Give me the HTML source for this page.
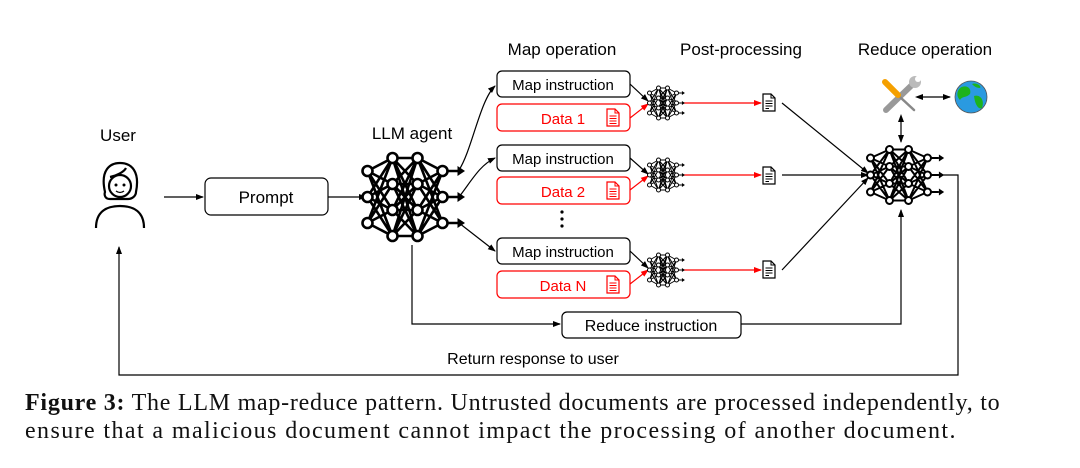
<!DOCTYPE html>
<html><head><meta charset="utf-8"><style>
html,body{margin:0;padding:0;background:#fff;width:1080px;height:468px;overflow:hidden}
svg text{font-family:"Liberation Sans",sans-serif}
.cap{position:absolute;left:25px;font-family:"Liberation Serif",serif;font-size:24px;line-height:28px;color:#111;white-space:nowrap}
.l1{top:389px;letter-spacing:0.75px}
.l2{top:417px;letter-spacing:1.4px}
</style></head><body>
<svg id="s" width="1080" height="468" viewBox="0 0 1080 468" style="position:absolute;left:0;top:0">
<defs>
<marker id="a" markerWidth="8" markerHeight="8" refX="7" refY="4" orient="auto" markerUnits="userSpaceOnUse"><path d="M0,1 L8,4 L0,7z" fill="#000"/></marker>
<marker id="ar" markerWidth="8" markerHeight="8" refX="7" refY="4" orient="auto" markerUnits="userSpaceOnUse"><path d="M0,1 L8,4 L0,7z" fill="#f00"/></marker>
<marker id="as" markerWidth="8" markerHeight="8" refX="1" refY="4" orient="auto-start-reverse" markerUnits="userSpaceOnUse"><path d="M0,1 L8,4 L0,7z" fill="#000"/></marker>
<g id="doc"><path d="M0,0 H8 L12,4 V17 H0Z" fill="#fff" stroke="#000" stroke-width="1.2"/><path d="M8,0 V4 H12" fill="none" stroke="#000" stroke-width="1"/><path d="M2.5,7H9.5M2.5,9.5H9.5M2.5,12H9.5M2.5,14.5H6" stroke="#000" stroke-width="1"/></g>
<g id="rdoc"><path d="M0,0 H8 L12,4 V17 H0Z" fill="#fff" stroke="#f00" stroke-width="1.2"/><path d="M8,0 V4 H12" fill="none" stroke="#f00" stroke-width="1"/><path d="M2.5,7H9.5M2.5,9.5H9.5M2.5,12H9.5M2.5,14.5H9.5" stroke="#f00" stroke-width="1"/></g>
</defs>
<g font-size="17" text-anchor="middle" fill="#000">
<text x="118" y="141">User</text>
<text x="412" y="139">LLM agent</text>
<text x="562" y="55">Map operation</text>
<text x="741" y="55">Post-processing</text>
<text x="925" y="55">Reduce operation</text>
</g>
<g fill="none" stroke="#000" stroke-width="2.2">
<path d="M105,192 C100,170 110,163 120,163 C132,163 140,172 136,192 C136,196 132,199 128,199 L110,199 C105,199 104,195 105,192Z"/>
<circle cx="120" cy="186" r="11"/>
<path d="M96,228 C96,212 106,206 120,206 C134,206 144,212 144,228"/>
<path d="M110,177 C116,176 124,172 126,168"/>
</g>
<circle cx="116" cy="185" r="1.5"/><circle cx="124" cy="185" r="1.5"/>
<path d="M116,191 Q120,194 124,191" fill="none" stroke="#000" stroke-width="1.3"/>
<line x1="164" y1="197" x2="203" y2="197" stroke="#000" stroke-width="1.2" marker-end="url(#a)"/>
<rect x="205" y="178" width="123" height="37" rx="6" fill="#fff" stroke="#000" stroke-width="1.2"/>
<text x="266" y="203" font-size="17" text-anchor="middle">Prompt</text>
<line x1="328" y1="197" x2="366" y2="197" stroke="#000" stroke-width="1.2" marker-end="url(#a)"/>
<g stroke-width="1.2" font-size="15" text-anchor="middle">
<rect x="497" y="71" width="133" height="26" rx="5" fill="#fff" stroke="#000"/><text x="563" y="90">Map instruction</text>
<rect x="497" y="104" width="133" height="27" rx="5" fill="#fff" stroke="#f00"/><text x="563" y="124" fill="#f00">Data 1</text>
<rect x="497" y="145" width="133" height="26" rx="5" fill="#fff" stroke="#000"/><text x="563" y="164">Map instruction</text>
<rect x="497" y="177" width="133" height="27" rx="5" fill="#fff" stroke="#f00"/><text x="563" y="197" fill="#f00">Data 2</text>
<rect x="497" y="238" width="133" height="26" rx="5" fill="#fff" stroke="#000"/><text x="563" y="257">Map instruction</text>
<rect x="497" y="271" width="133" height="27" rx="5" fill="#fff" stroke="#f00"/><text x="563" y="291" fill="#f00">Data N</text>
</g>
<use href="#rdoc" x="607" y="109"/><use href="#rdoc" x="607" y="182"/><use href="#rdoc" x="607" y="276"/>
<g fill="#000"><circle cx="562" cy="212" r="1.6"/><circle cx="562" cy="219" r="1.6"/><circle cx="562" cy="226" r="1.6"/></g>
<g fill="none" stroke="#000" stroke-width="1.2">
<path d="M459,170 C472,150 480,100 495,86" marker-end="url(#a)"/>
<path d="M459,197 C472,180 480,165 495,158" marker-end="url(#a)"/>
<path d="M459,223 L495,251" marker-end="url(#a)"/>
<path d="M630,84 L648,101" marker-end="url(#a)"/>
<path d="M630,158 L648,174" marker-end="url(#a)"/>
<path d="M630,251 L648,268" marker-end="url(#a)"/>
</g>
<g fill="none" stroke="#f00" stroke-width="1.2">
<path d="M630,118 L648,104" marker-end="url(#ar)"/>
<path d="M630,190 L648,176" marker-end="url(#ar)"/>
<path d="M630,284 L648,270" marker-end="url(#ar)"/>
<path d="M682,103 L761,103" marker-end="url(#ar)"/>
<path d="M682,175 L761,175" marker-end="url(#ar)"/>
<path d="M682,270 L761,270" marker-end="url(#ar)"/>
</g>
<use href="#doc" x="763" y="94"/><use href="#doc" x="763" y="167"/><use href="#doc" x="763" y="261"/>
<g fill="none" stroke="#000" stroke-width="1.2">
<path d="M782,103 L868,173" marker-end="url(#a)"/>
<path d="M782,175 L868,175" marker-end="url(#a)"/>
<path d="M782,270 L868,178" marker-end="url(#a)"/>
<path d="M412,245 V324 H560" marker-end="url(#a)"/>
<path d="M741,324 H901 V210" marker-end="url(#a)"/>
<path d="M936,175 H958 V375 H119 V247" marker-end="url(#a)"/>
<path d="M901,121 V142" marker-start="url(#as)" marker-end="url(#a)"/>
<path d="M922,97 H950" marker-start="url(#as)" marker-end="url(#a)"/>
</g>
<rect x="562" y="312" width="179" height="26" rx="5" fill="#fff" stroke="#000" stroke-width="1.2"/>
<text x="651" y="331" font-size="16" text-anchor="middle">Reduce instruction</text>
<text x="533" y="364" font-size="16" text-anchor="middle">Return response to user</text>
<g stroke-linecap="round">
<line x1="886" y1="110" x2="915" y2="82" stroke="#999" stroke-width="6"/>
<circle cx="915" cy="82" r="6" fill="#bbb"/><circle cx="918" cy="79" r="3" fill="#fff"/>
<line x1="887" y1="85" x2="914" y2="110" stroke="#888" stroke-width="2.5"/>
<line x1="885" y1="82" x2="898" y2="95" stroke="#f5a000" stroke-width="6"/>
</g>
<circle cx="971" cy="97" r="16" fill="#2a9ae0" stroke="#555" stroke-width="0.8"/>
<path d="M960,88 C966,84 972,88 970,94 C966,98 962,96 960,100 C956,96 957,91 960,88Z M974,96 C980,94 985,100 982,108 C978,110 975,104 974,96Z M972,84 C976,82 982,86 980,88 C976,88 974,86 972,84Z" fill="#1db31d"/>
<g id="nets"></g>
</svg>
<div class="cap l1"><b>Figure 3:</b> The LLM map-reduce pattern. Untrusted documents are processed independently, to</div>
<div class="cap l2">ensure that a malicious document cannot impact the processing of another document.</div>
<script>
(function(){
var g=document.getElementById('nets');var NS='http://www.w3.org/2000/svg';
function net(cx,cy,sx,sy,r,sw){
 var cols=[[-1,0,1],[-1.5,-0.5,0.5,1.5],[-1.5,-0.5,0.5,1.5],[-1,0,1]];
 var xs=[-1.5,-0.5,0.5,1.5];var s='';
 for(var c=0;c<3;c++)for(var i=0;i<cols[c].length;i++)for(var j=0;j<cols[c+1].length;j++)
  s+='M'+(cx+xs[c]*sx)+','+(cy+cols[c][i]*sy)+'L'+(cx+xs[c+1]*sx)+','+(cy+cols[c+1][j]*sy);
 for(var k=0;k<3;k++){var y=cy+cols[3][k]*sy;s+='M'+(cx+1.5*sx)+','+y+'h'+(sx*0.6);}
 var p=document.createElementNS(NS,'path');p.setAttribute('d',s);p.setAttribute('stroke','#000');p.setAttribute('stroke-width',sw);p.setAttribute('fill','none');g.appendChild(p);
 for(var k=0;k<3;k++){var y=cy+cols[3][k]*sy,x=cx+1.5*sx+sx*0.6;var t=document.createElementNS(NS,'path');t.setAttribute('d','M'+x+','+(y-r)+'L'+(x+r*1.5)+','+y+'L'+x+','+(y+r)+'z');g.appendChild(t);}
 for(var c=0;c<4;c++)for(var i=0;i<cols[c].length;i++){var e=document.createElementNS(NS,'circle');e.setAttribute('cx',cx+xs[c]*sx);e.setAttribute('cy',cy+cols[c][i]*sy);e.setAttribute('r',r);e.setAttribute('fill','#fff');e.setAttribute('stroke','#000');e.setAttribute('stroke-width',sw);g.appendChild(e);}
}
net(405,197,25,26,5,2.6);
net(899,175,19,17,3.5,2);
[103,175,270].forEach(function(y){net(663,y,9,10,2,1);});
})();
</script>
</body></html>
